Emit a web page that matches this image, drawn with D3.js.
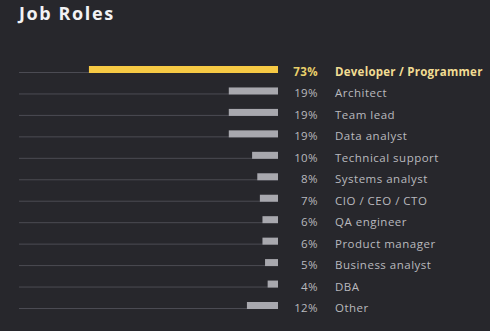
<!DOCTYPE html>
<html>
<head>
<meta charset="utf-8">
<script src="https://cdn.jsdelivr.net/npm/d3@7"></script>
<style>
  html, body { margin: 0; padding: 0; background: #27272c; }
  svg { display: block; font-family: "Open Sans", sans-serif; }
</style>
</head>
<body>
<div id="chart"></div>
<script>
// data
const roles = ["Developer / Programmer", "Architect", "Team lead", "Data analyst",
  "Technical support", "Systems analyst", "CIO / CEO / CTO", "QA engineer",
  "Product manager", "Business analyst", "DBA", "Other"];
const shares = [73, 19, 19, 19, 10, 8, 7, 6, 6, 5, 4, 12];
const highlight = "Developer / Programmer";

const width = 490, height = 331;
const barRight = 278, lineLeft = 19;

const svg = d3.select('#chart').append('svg')
  .attr('width', width)
  .attr('height', height)
  .attr('viewBox', [0, 0, width, height]);

svg.append('rect').attr('width', width).attr('height', height).attr('fill', '#27272c');

// title
svg.append('text')
  .attr('x', 19).attr('y', 19.5)
  .attr('fill', '#f2f2f4')
  .attr('font-size', 18)
  .attr('font-weight', 700)
  .attr('letter-spacing', 1.6)
  .text('Job Roles');

const y = d3.scalePoint().domain(roles).range([72, 308]);
const x = d3.scaleLinear().domain([0, 100]).range([0, 259]);

const rows = svg.append('g')
  .selectAll('g')
  .data(roles)
  .join('g')
  .attr('transform', d => `translate(0,${y(d)})`);

// thin baseline
rows.append('line')
  .attr('x1', lineLeft).attr('x2', barRight)
  .attr('y1', 0.5).attr('y2', 0.5)
  .attr('stroke', '#4b4b53')
  .attr('stroke-width', 1);

// bars grow leftwards from barRight
rows.append('rect')
  .attr('x', (d, i) => barRight - x(shares[i]))
  .attr('y', -6)
  .attr('width', (d, i) => x(shares[i]))
  .attr('height', 7)
  .attr('fill', d => d === highlight ? '#f6c944' : '#a8a8ae');

// percentage
rows.append('text')
  .attr('x', 318).attr('y', 4)
  .attr('text-anchor', 'end')
  .attr('font-size', 11.5)
  .attr('font-weight', d => d === highlight ? 700 : 400)
  .attr('letter-spacing', 0.4)
  .attr('fill', d => d === highlight ? '#e9cf6a' : '#b9b9be')
  .text((d, i) => shares[i] + '%');

// role name
rows.append('text')
  .attr('x', 335).attr('y', 4)
  .attr('font-size', 11.5)
  .attr('font-weight', d => d === highlight ? 700 : 400)
  .attr('letter-spacing', d => d === highlight ? 0.25 : 0.5)
  .attr('fill', d => d === highlight ? '#f1dc93' : '#b9b9be')
  .text(d => d);
</script>
</body>
</html>
